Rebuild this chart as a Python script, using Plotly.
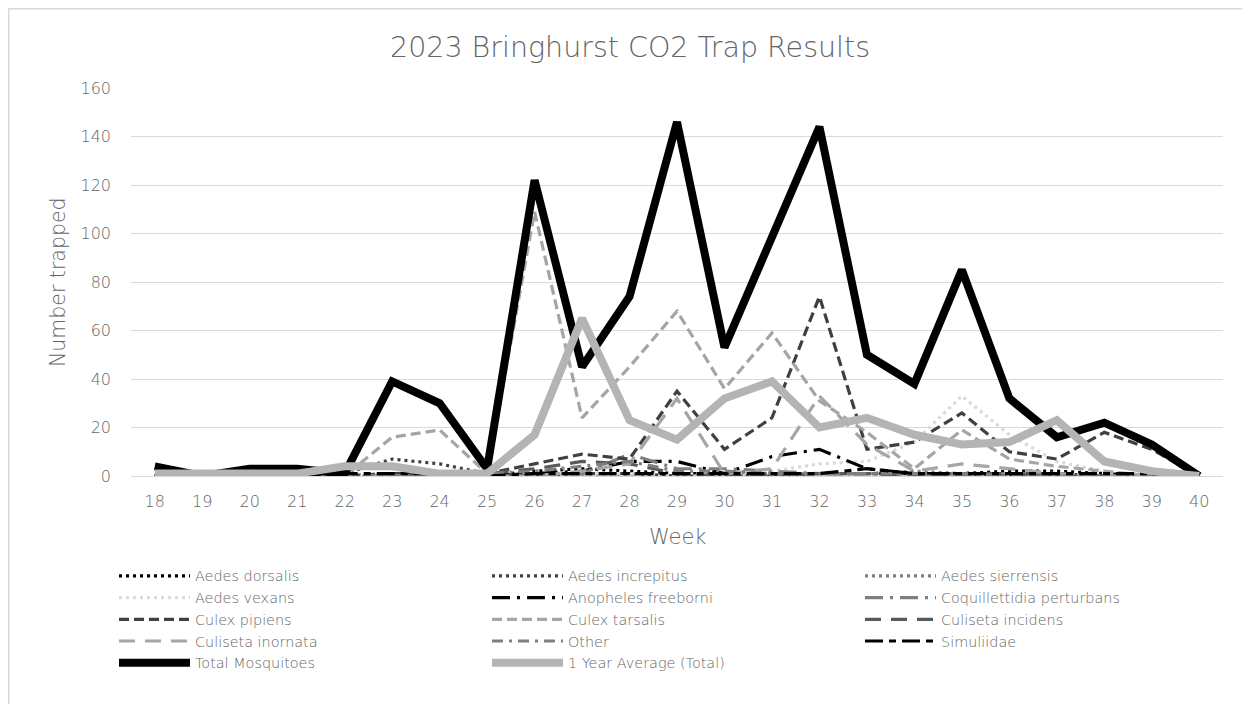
import plotly.graph_objects as go

weeks = list(range(18, 41))

aedes_dorsalis = [0,0,0,0,0,1,1,0,2,3,2,1,1,1,1,1,1,1,2,2,1,0,0]
aedes_increpitus = [0,0,0,0,1,7,5,1,0,1,1,0,0,0,1,1,1,1,1,1,0,0,0]
aedes_sierrensis = [0,0,0,0,0,0,0,0,0,0,0,0,0,0,1,1,2,1,1,1,0,0,0]
aedes_vexans = [0,0,0,0,0,0,0,0,0,1,1,0,0,2,5,6,14,33,17,6,2,0,0]
anopheles_freeborni = [0,0,0,0,0,0,0,0,1,2,6,6,1,8,11,3,1,1,0,0,0,0,0]
coquillettidia_perturbans = [0,0,0,0,0,0,0,0,0,1,9,3,3,2,1,1,0,0,0,0,0,0,0]
culex_pipiens = [0,0,0,0,0,1,1,1,5,9,7,35,11,24,74,11,14,26,10,7,18,11,0]
culex_tarsalis = [0,0,0,0,0,16,19,1,109,24,45,68,36,59,31,18,3,19,7,4,2,0,0]
culiseta_incidens = [0,0,0,0,0,0,0,1,3,6,5,1,0,1,1,1,0,1,1,0,0,0,0]
culiseta_inornata = [0,0,0,0,0,0,0,0,0,2,5,32,1,3,33,13,2,5,3,1,0,0,0]
other = [0,0,0,0,0,0,0,1,2,4,6,2,2,1,1,1,1,1,0,0,0,0,0]
simuliidae = [0,0,0,0,1,1,1,0,1,1,1,1,1,1,1,3,1,1,1,1,1,1,0]
total_mosquitoes = [4,0,3,3,1,39,30,3,122,45,74,146,53,98,144,50,38,85,32,16,22,13,0]
year_average = [1,1,1,1,4,4,1,1,17,65,23,15,32,39,20,24,17,13,14,23,6,2,0]

series = [
    ("Aedes dorsalis", aedes_dorsalis, "#000000", "3px,4px", 3.2),
    ("Aedes increpitus", aedes_increpitus, "#404040", "3px,4px", 3.2),
    ("Aedes sierrensis", aedes_sierrensis, "#7f7f7f", "3px,4px", 3.2),
    ("Aedes vexans", aedes_vexans, "#d9d9d9", "3px,4px", 3.2),
    ("Anopheles freeborni", anopheles_freeborni, "#000000", "18px,7px,3px,7px", 3.2),
    ("Coquillettidia perturbans", coquillettidia_perturbans, "#7f7f7f", "18px,7px,3px,7px", 3.2),
    ("Culex pipiens", culex_pipiens, "#404040", "10px,5px", 3.2),
    ("Culex tarsalis", culex_tarsalis, "#a5a5a5", "10px,5px", 3.2),
    ("Culiseta incidens", culiseta_incidens, "#595959", "16px,10px", 3.2),
    ("Culiseta inornata", culiseta_inornata, "#a5a5a5", "16px,10px", 3.2),
    ("Other", other, "#7f7f7f", "11px,6px,3px,6px", 3.2),
    ("Simuliidae", simuliidae, "#000000", "18px,6px,7px,6px", 3.2),
    ("Total Mosquitoes", total_mosquitoes, "#000000", "solid", 8),
    ("1 Year Average (Total)", year_average, "#b4b4b4", "solid", 8),
]

fig = go.Figure()
for name, vals, color, dash, width in series:
    fig.add_trace(go.Scatter(
        x=weeks, y=vals, name=name, mode="lines",
        line=dict(color=color, dash=dash, width=width),
    ))

TXT = "#656565"
FAM = "DejaVu Sans"
W = 200
PW, PH = 1092, 388
fig.update_layout(
    width=1242, height=696,
    paper_bgcolor="white", plot_bgcolor="white",
    margin=dict(l=123, r=27, t=80, b=228),
    font=dict(family=FAM, size=15, color=TXT, weight=W),
    title=dict(text="2023 Bringhurst CO2 Trap Results", x=622/1242, xanchor="center",
               y=1 - 39/696, yanchor="middle", yref="container",
               font=dict(size=28.5, color=TXT, family=FAM, weight=W)),
    showlegend=True,
    legend=dict(orientation="h", x=(106-123)/PW, xanchor="left",
                y=(468-552)/PH, yanchor="top",
                itemwidth=71, entrywidth=287, entrywidthmode="pixels",
                font=dict(size=14.4, color=TXT, family=FAM, weight=W),
                bgcolor="rgba(0,0,0,0)", tracegroupgap=0),
    xaxis=dict(range=[17.5, 40.5], tickvals=weeks, ticktext=[str(w) for w in weeks],
               showgrid=False, zeroline=False, showline=True, linecolor="#d9d9d9",
               linewidth=1, ticks="", tickfont=dict(size=16, color=TXT, family=FAM, weight=W),
               ticklabelstandoff=11, fixedrange=True),
    yaxis=dict(range=[0, 160], dtick=20, showgrid=True, gridcolor="#d9d9d9", gridwidth=1,
               zeroline=False, showline=False, ticks="",
               tickfont=dict(size=16, color=TXT, family=FAM, weight=W),
               ticklabelstandoff=19),
    annotations=[
        dict(text="Week", xref="paper", yref="paper", x=(678-8-123)/PW, y=(468-529)/PH,
             showarrow=False, xanchor="center", yanchor="middle",
             font=dict(size=21, color=TXT, family=FAM, weight=W)),
        dict(text="Number trapped", xref="paper", yref="paper", x=(58-8-123)/PW, y=(468-274)/PH,
             showarrow=False, xanchor="center", yanchor="middle", textangle=-90,
             font=dict(size=20.5, color=TXT, family=FAM, weight=W)),
    ],
    shapes=[
        dict(type="rect", xref="paper", yref="paper",
             x0=(0.75-123)/PW, x1=(1300-123)/PW, y0=(468-760)/PH, y1=(468-0.75)/PH,
             line=dict(color="#d9d9d9", width=1.5), fillcolor="rgba(0,0,0,0)", layer="below"),
    ],
)

fig.write_html("out.html")
